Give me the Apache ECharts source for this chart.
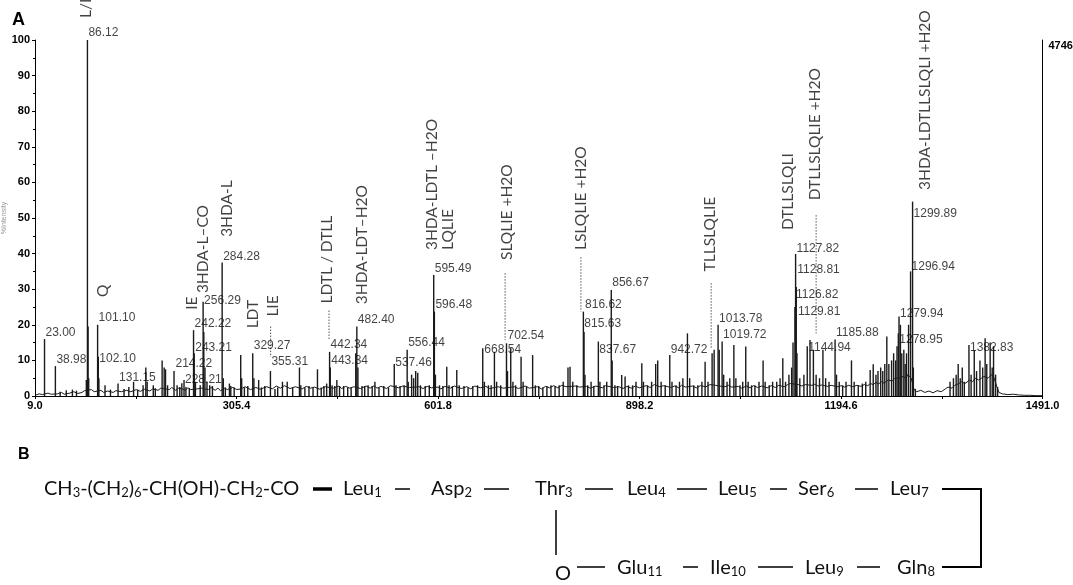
<!DOCTYPE html>
<html><head><meta charset="utf-8">
<script src="https://cdn.jsdelivr.net/npm/echarts@6/dist/echarts.min.js"></script>
<style>html,body{margin:0;padding:0;background:#fff}#c{width:1073px;height:585px}</style>
</head><body><div id="c"></div>
<script>
// ---------- data ----------
const xTickLabels = [9.0, 305.4, 601.8, 898.2, 1194.6, 1491.0];
const xTicks = [9.0, 157.2, 305.4, 453.6, 601.8, 750.0, 898.2, 1046.4, 1194.6, 1342.8, 1491.0];
const yTicks = [0, 10, 20, 30, 40, 50, 60, 70, 80, 90, 100];
const rightAxisLabel = '4746';

// peak sticks [m/z, %intensity]
const peaks = [
 [23.0,16],[38.98,8.4],[46,1.2],[55,1.6],[64,1.8],[70,1.5],[84.5,4.5],[86.12,100],[87.1,19.5],[88,5],
 [101.1,20],[102.1,11],[103,5],[112,3],[120,1.8],[131.15,3.5],[140,2],[147,2.5],[154,4],[160,1.8],
 [168,3],[172,8],[174,4],[183,3],[186,2.2],[196,10],[199,8],[201,7.5],[204,3],[213.5,7],[218,3],
 [222,2.5],[225,3.6],[228.21,4.5],[231,2.5],[236,2.2],[242.22,18.5],[243.21,12],[245,4],[252,3],
 [256.29,26.5],[257.3,18],[259,8],[262,4],[266,3],[270,2.8],[284.28,37.5],[286,5],[289,2.4],[295,3.5],
 [297,2.8],[302,2.4],[311.6,11.5],[313,5],[317,2.4],[322,2.8],[329.27,12],[331,5],[338,4.5],[342,2.4],
 [347,2.8],[355.31,7],[362,2],[366,2.4],[373,4],[380,4],[388,2.4],[398,8],[400,3],[406,2.4],[412,2.8],
 [418,2.4],[424.5,7.5],[430,2.4],[434,2.8],[438,3.5],[442.34,12.4],[443.34,8],[446,3],[450,2.8],[453,4.5],
 [457,2.8],[463,2.8],[469,2.4],[474,2.4],[480.8,12],[482.4,19.5],[484,8],[490,2.8],[494,2.8],[499,3],
 [505,2.8],[509,4],[515,2.4],[522,2.8],[529,2.4],[537.46,9],[540,3],[546,2.8],[552,3],[556.44,13],
 [558,4],[563,6],[566,5],[569,7],[572,6.5],[576,3],[583,2.8],[589,3],[595.49,34],[596.48,23.7],
 [598,6],[604,3],[609,2.8],[614.7,8.2],[618,3],[623,2.8],[629.4,7.3],[633,3],[640,2.8],[646,2.4],
 [653,2.8],[660,3],[667.6,13.4],[670,4],[676,3],[680,3],[684.8,12.4],[688,4],[694,3],[702.54,14.8],
 [704,7],[708.8,13.4],[712,4],[716,3],[724,11],[727,4],[732,2.8],[741,11.5],[745,3],[750,2.8],
 [756,2.4],[762,2.8],[768,3],[774,2.8],[780,3],[786,4],[793,8],[796,8.2],[800,4],[806,3],
 [815.63,23.7],[816.62,18],[818,6],[822,3],[827,4],[831,2.8],[837.67,15.3],[840,4],[846,3],[850,4],
 [856.67,29.8],[858,10],[862,3],[866,2.8],[872,5.9],[877,5.5],[882,3],[888,3],[893,4],[901.6,9.2],
 [904,4],[910,3],[916,4],[922,9],[925,10],[930,4],[936,3],[942.72,11.5],[946,4],[952,3],[957,4],
 [962,5],[968.7,17.6],[972,5],[978,3],[984,3],[990,4],[994.7,9.6],[999,4],[1005,12],[1008,13],
 [1013.78,20],[1015.5,13],[1019.72,15.3],[1022,6],[1027,4],[1031,5],[1037,14.3],[1040,5],[1046,3],
 [1050,4],[1054.5,13.9],[1058,4],[1063,3],[1068,3],[1074,4],[1080,10],[1083,4],[1089,3],[1094,4],
 [1100,4],[1105,5],[1109,10.6],[1113,4],[1118,6],[1122,8],[1124,15],[1126.82,25],[1127.82,39.9],
 [1128.81,30.6],[1129.81,12],[1134,5],[1140,6],[1144.94,14],[1149,15.7],[1154,13],[1158,6],[1163,5],
 [1168,13],[1172,5],[1177,4],[1185.88,15.9],[1188,6],[1192,4],[1197,3],[1202,4],[1210,10],[1214,4],
 [1220,3],[1226,3.5],[1231,4],[1237.5,7.3],[1242,8.9],[1246,6],[1249,7],[1253,8],[1256,7],[1259,9],
 [1262,16.7],[1265,9],[1269,10],[1272,12],[1275,10],[1277,14],[1279.94,22.3],[1278.95,17.6],
 [1282,20],[1284,12],[1287,13],[1289,9],[1291,12],[1294,20],[1296.94,35],[1299.89,54.6],[1301,8],
 [1304,2],[1355,4],[1360,5],[1364,6],[1367,9],[1370,5],[1373,8],[1376,4],[1382.83,14.3],[1386,6],
 [1390.6,12.9],[1394,7],[1399,10],[1403,8],[1406.6,16.2],[1409,9],[1414,15],[1417,8],[1419,14],
 [1422,6],[1425,2.5]
];

// noisy baseline [m/z, %intensity]
const baseline = [
 [9,0.2],[15,0.6],[20,0.4],[28,0.8],[33,0.5],[42,0.6],[48,1.0],[52,0.5],[60,0.8],[66,1.2],[72,0.7],[78,1.0],
 [82,1.5],[92,1.8],[96,1.2],[106,1.6],[110,1.0],[116,1.4],[124,1.0],[128,1.5],[136,1.2],[144,1.6],[150,1.2],
 [158,1.8],[164,1.3],[170,1.9],[178,1.4],[182,2.0],[190,1.6],[194,2.2],[207,1.8],[210,2.4],[216,1.6],
 [220,2.2],[226,2.0],[230,1.6],[234,2.3],[238,1.8],[248,2.0],[250,1.5],[254,2.2],[264,1.8],[268,2.4],
 [274,1.6],[278,2.2],[282,1.5],[288,2.2],[292,1.8],[300,2.4],[306,1.8],[312,2.0],[318,2.6],[326,1.8],
 [334,2.4],[340,1.9],[350,2.6],[358,2.0],[364,2.8],[370,2.2],[376,2.9],[384,2.1],[392,2.6],[402,2.0],
 [408,2.7],[414,2.2],[420,2.5],[428,1.9],[436,2.6],[448,2.2],[456,2.8],[460,2.1],[466,2.7],[472,2.2],
 [478,2.6],[488,2.1],[496,2.8],[502,2.2],[508,2.9],[512,2.2],[518,2.7],[526,2.1],[532,2.9],[544,2.3],
 [550,2.8],[560,2.4],[574,2.6],[580,2.1],[586,2.7],[592,2.3],[602,2.5],[606,2.0],[612,2.7],[620,2.2],
 [626,2.8],[636,2.1],[644,2.6],[650,2.0],[656,2.8],[664,2.3],[672,2.7],[678,2.1],[690,2.6],[698,2.2],
 [714,2.6],[720,2.1],[730,2.8],[736,2.2],[748,2.6],[754,2.0],[760,2.7],[766,2.3],[772,2.9],[778,2.3],
 [784,3.0],[790,2.6],[804,2.8],[810,2.5],[820,2.7],[826,2.2],[834,2.8],[844,2.3],[848,2.9],[860,2.4],
 [868,2.6],[874,2.1],[880,2.7],[886,2.2],[892,2.8],[898,2.3],[908,2.9],[914,2.4],[920,3.2],[928,2.6],
 [934,2.9],[944,2.4],[950,2.8],[956,2.3],[960,3.0],[966,2.5],[976,2.8],[982,2.3],[988,2.9],[996,2.6],
 [1002,3.2],[1010,3.0],[1016,2.8],[1024,2.6],[1029,3.0],[1034,2.5],[1044,2.7],[1048,2.2],[1056,2.8],
 [1061,2.3],[1066,2.9],[1072,2.4],[1078,2.8],[1086,2.3],[1092,2.9],[1098,2.4],[1103,3.0],[1111,2.6],
 [1116,3.2],[1120,3.5],[1132,3.2],[1137,2.8],[1142,3.2],[1152,3.0],[1156,3.3],[1161,2.8],[1166,3.1],
 [1175,2.7],[1180,3.0],[1190,2.6],[1195,2.9],[1200,2.5],[1206,3.0],[1212,2.6],[1218,3.0],[1224,2.7],
 [1229,3.2],[1234,2.9],[1238,3.5],[1242,3.2],[1246,3.8],[1250,3.4],[1254,4.0],[1258,3.6],[1264,4.5],
 [1270,4.2],[1274,5.0],[1280,5.0],[1286,5.5],[1290,5.0],[1293,6.0],[1298,5.0],[1302,1.8],[1306,1.2],
 [1312,1.6],[1318,1.0],[1324,1.4],[1330,0.9],[1336,1.5],[1342,1.2],[1348,2.0],[1352,2.5],[1358,2.2],
 [1362,3.0],[1368,3.5],[1372,4.0],[1377,3.5],[1384,4.5],[1388,4.0],[1392,5.0],[1397,4.5],[1401,5.0],
 [1405,5.5],[1411,5.0],[1416,6.0],[1420,5.0],[1424,2.5],[1427,1.0],[1432,0.6],[1440,0.4],[1448,0.5],
 [1456,0.3],[1464,0.2],[1472,0.2],[1480,0.1],[1491,0.1]
];

// m/z labels [text, label level (%)]
const mzLabels = [
 ['23.00',17.7],['38.98',10.1],['86.12',102],['101.10',21.9],['102.10',10.4],['131.15',5.1],
 ['214.22',9],['228.21',4.5],['242.22',20.2],['243.21',13.6],['256.29',26.7],['284.28',39.1],
 ['329.27',14],['355.31',9.6],['442.34',14.3],['443.34',9.8],['482.40',21.3],['537.46',9.4],
 ['556.44',15],['595.49',35.9],['596.48',25.6],['668.54',12.9],['702.54',16.9],['815.63',20.4],
 ['816.62',25.6],['837.67',12.9],['856.67',31.7],['942.72',12.9],['1013.78',21.8],['1019.72',17.3],
 ['1127.82',41.5],['1128.81',35.4],['1126.82',28.4],['1129.81',23.7],['1144.94',13.7],['1185.88',17.8],
 ['1279.94',23.2],['1278.95',15.7],['1299.89',51.3],['1296.94',36.3],['1382.83',13.6]
];

// fragment annotations [text, m/z, level of text start (%)]
const annotations = [
 ['L/I',83.6,106.2],['Q',109.5,27.8],['IE',240.4,24.2],['3HDA-L\u2013CO',256.6,28.9],['3HDA-L',291,44.7],
 ['LDT',330,19],['LIE',359.6,22.3],['LDTL / DTLL',438,26],['3HDA-LDT\u2013H2O',490.5,25.8],
 ['3HDA-LDTL \u2013H2O',592.6,41],['LQLIE',617,41],['SLQLIE +H2O',703,38.2],['LSLQLIE +H2O',812.3,41],
 ['TLLSLQLIE',1002,35],['DTLLSLQLI',1117,46.6],['DTLLSLQLIE +H2O',1156.5,55],['3HDA-LDTLLSLQLI +H2O',1318,57.9]
];

// dotted guides [m/z, top %, bottom %]
const guides = [
 [355.6,19.5,11],[441.5,24,15.7],[700.5,34.5,15.7],[812,39,23.7],[1003.6,31.7,13.4],[1158,50.8,17.6]
];

// panel B: structure
const lipidTail = 'CH_3-(CH_2)_6-CH(OH)-CH_2-CO';
const residuesTop = ['Leu_1','Asp_2','Thr_3','Leu_4','Leu_5','Ser_6','Leu_7'];
const residuesBottom = ['Gln_8','Leu_9','Ile_10','Glu_11'];
const esterO = 'O';

// ---------- chart ----------
const chart = echarts.init(document.getElementById('c'), null, {renderer: 'canvas', width: 1073, height: 585});
const sub = s => s.replace(/_(\d+)/g, '{s|$1}');

const guideData = [];
guides.forEach(g => { guideData.push([g[0], g[1]], [g[0], g[2]], [null, null]); });

const BASE = {fill: '#111', fontFamily: 'Lato', fontSize: 20, lineHeight: 20, verticalAlign: 'middle', align: 'left',
  rich: {s: {fontFamily: 'Lato', fontSize: 13, lineHeight: 7, verticalAlign: 'bottom', fill: '#111'}}};
const txt = (s, x, y) => ({type: 'text', x: x, y: y, style: Object.assign({}, BASE, {text: sub(s)})});
const seg = (x1, y1, x2, y2, w) => ({type: 'line', shape: {x1, y1, x2, y2}, style: {stroke: '#000', lineWidth: w || 1.5}});

const topX = [343, 431, 535, 627, 718, 798, 890];
const botX = [897, 805, 710, 617];
const yTop = 489, yBot = 568;
const graphics = [
  {type: 'text', x: 12, y: 11, style: {text: 'A', fontFamily: 'Liberation Sans', fontWeight: 'bold', fontSize: 18, fill: '#000'}},
  {type: 'text', x: 18, y: 447, style: {text: 'B', fontFamily: 'Liberation Sans', fontWeight: 'bold', fontSize: 16, fill: '#000'}},
  txt(lipidTail, 44, yTop),
  seg(313, yTop, 332, yTop, 3.5)
];
residuesTop.forEach((r, i) => graphics.push(txt(r, topX[i], yTop)));
residuesBottom.forEach((r, i) => graphics.push(txt(r, botX[i], yBot)));
graphics.push(txt(esterO, 555, 574));
[[395,410],[484,509],[585,613],[677,707],[770,787],[855,878]].forEach(d => graphics.push(seg(d[0], yTop, d[1], yTop)));
[[857,880],[758,793],[683,698],[577,605]].forEach(d => graphics.push(seg(d[0], 567, d[1], 567)));
graphics.push(seg(556, 510, 556, 555));
graphics.push({type: 'polyline', shape: {points: [[942, 489], [981, 489], [981, 567], [942, 567]]}, style: {stroke: '#000', lineWidth: 2, fill: null}});

chart.setOption({
  animation: false,
  backgroundColor: '#fff',
  grid: {left: 35, right: 30.5, top: 40, bottom: 189, containLabel: false, outerBoundsMode: 'none'},
  xAxis: {
    type: 'value', min: 9, max: 1491,
    axisLine: {show: true, lineStyle: {color: '#000', width: 1}},
    axisTick: {show: true, customValues: xTicks, length: 3, lineStyle: {color: '#000'}},
    axisLabel: {show: true, customValues: xTickLabels, formatter: v => v.toFixed(1), fontFamily: 'Liberation Sans',
      fontWeight: 'bold', fontSize: 11, color: '#000', margin: 4},
    splitLine: {show: false}
  },
  yAxis: [{
    type: 'value', min: 0, max: 100, interval: 10, position: 'left',
    name: '%Intensity', nameLocation: 'middle', nameGap: 27, nameMoveOverlap: false,
    nameTextStyle: {fontSize: 7, color: '#999', fontFamily: 'Liberation Sans'},
    axisLine: {show: true, lineStyle: {color: '#000', width: 1}},
    axisTick: {show: true, length: 3, lineStyle: {color: '#000'}},
    minorTick: {show: true, splitNumber: 2, length: 2, lineStyle: {color: '#000'}},
    axisLabel: {customValues: yTicks, fontFamily: 'Liberation Sans', fontWeight: 'bold', fontSize: 11, color: '#000', margin: 5},
    splitLine: {show: false}
  }, {
    type: 'value', min: 0, max: 100, position: 'right',
    axisLine: {show: true, lineStyle: {color: '#000', width: 1}},
    axisTick: {show: false},
    axisLabel: {customValues: [100], formatter: () => rightAxisLabel, verticalAlign: 'top', fontFamily: 'Liberation Sans',
      fontWeight: 'bold', fontSize: 11, color: '#000', margin: 6},
    splitLine: {show: false}
  }],
  series: [
    {type: 'line', data: baseline, symbol: 'none', lineStyle: {color: '#1a1a1a', width: 1}, z: 2},
    {type: 'bar', data: peaks, barWidth: 1.4, itemStyle: {color: '#1a1a1a'}, z: 3},
    {type: 'line', data: guideData, symbol: 'none', connectNulls: false,
      lineStyle: {color: '#555', width: 1, type: [1.5, 1.5]}, z: 4},
    {type: 'scatter', symbolSize: 0, clip: false, z: 5,
      data: mzLabels.map(l => ({value: [parseFloat(l[0]), l[1]], name: l[0]})),
      label: {show: true, position: [1, 0], align: 'left', verticalAlign: 'middle', formatter: '{b}',
        fontFamily: 'Liberation Sans', fontSize: 12, color: '#111'}},
    {type: 'scatter', symbolSize: 0, clip: false, z: 5,
      data: annotations.map(a => ({value: [a[1], a[2]], name: a[0]})),
      label: {show: true, position: [0, 0], rotate: 90, align: 'left', verticalAlign: 'middle', formatter: '{b}',
        fontFamily: 'Lato', fontSize: 15.5, color: '#111'}}
  ],
  graphic: graphics
});
</script>
</body></html>
